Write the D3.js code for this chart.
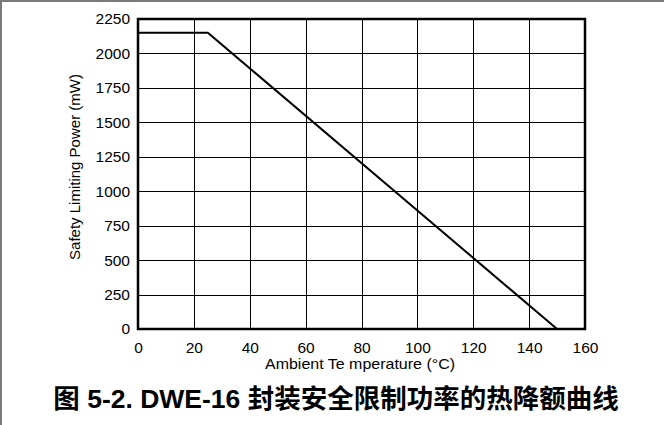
<!DOCTYPE html>
<html>
<head>
<meta charset="utf-8">
<script src="https://cdn.jsdelivr.net/npm/d3@7/dist/d3.min.js"></script>
<style>
  html, body { margin: 0; padding: 0; background: #fff; }
  svg { display: block; }
</style>
</head>
<body>
<script>
// Safety-limiting power derating curve
const temperature = [0, 25, 150];          // ambient temperature, °C
const powerLimit  = [2150, 2150, 0];       // safety limiting power, mW
const xTicks = [0, 20, 40, 60, 80, 100, 120, 140, 160];
const yTicks = [0, 250, 500, 750, 1000, 1250, 1500, 1750, 2000, 2250];
const xTitle = "Ambient Te mperature (\u00B0C)";
const yTitle = "Safety Limiting Power (mW)";
const caption = "图 5-2. DWE-16 封装安全限制功率的热降额曲线";

const W = 664, H = 425;
const plot = { left: 138, right: 585, top: 19, bottom: 329 };
const sans = "Liberation Sans, Arial, sans-serif";

const svg = d3.select("body").append("svg")
  .attr("width", W).attr("height", H);

// page frame (top and left edges)
svg.append("path")
  .attr("d", `M1,${H} L1,1 L${W},1`)
  .attr("fill", "none").attr("stroke", "#7a7a7a").attr("stroke-width", 2);

const x = d3.scaleLinear().domain([0, 160]).range([plot.left, plot.right]);
const y = d3.scaleLinear().domain([0, 2250]).range([plot.bottom, plot.top]);

// grid
const grid = svg.append("g").attr("stroke", "#000").attr("stroke-width", 1);
grid.selectAll("line.v").data(xTicks.slice(1, -1)).join("line")
  .attr("x1", d => Math.round(x(d)) + 0.5).attr("x2", d => Math.round(x(d)) + 0.5)
  .attr("y1", plot.top).attr("y2", plot.bottom);
grid.selectAll("line.h").data(yTicks.slice(1, -1)).join("line")
  .attr("y1", d => Math.round(y(d)) + 0.5).attr("y2", d => Math.round(y(d)) + 0.5)
  .attr("x1", plot.left).attr("x2", plot.right);

// tick labels via axes
const xAxis = d3.axisBottom(x).tickValues(xTicks).tickFormat(d3.format("d"))
  .tickSize(0).tickPadding(13);
const gx = svg.append("g").attr("transform", `translate(0,${plot.bottom})`).call(xAxis);
gx.select(".domain").remove();
gx.selectAll("text").attr("font-family", sans).attr("font-size", 15.5).attr("fill", "#000");

const yAxis = d3.axisLeft(y).tickValues(yTicks).tickFormat(d3.format("d"))
  .tickSize(0).tickPadding(8);
const gy = svg.append("g").attr("transform", `translate(${plot.left},0)`).call(yAxis);
gy.select(".domain").remove();
gy.selectAll("text").attr("font-family", sans).attr("font-size", 15.5).attr("fill", "#000");

// plot frame
svg.append("rect")
  .attr("x", plot.left).attr("y", plot.top)
  .attr("width", plot.right - plot.left).attr("height", plot.bottom - plot.top)
  .attr("fill", "none").attr("stroke", "#000").attr("stroke-width", 2.5);

// derating curve
const line = d3.line().x((d, i) => x(temperature[i])).y(d => y(d));
svg.append("path").datum(powerLimit)
  .attr("d", line)
  .attr("fill", "none").attr("stroke", "#000").attr("stroke-width", 2);

// axis titles
svg.append("text")
  .attr("x", 360).attr("y", 369)
  .attr("text-anchor", "middle")
  .attr("font-family", sans)
  .attr("font-size", 14.5).attr("fill", "#000")
  .attr("textLength", 190).attr("lengthAdjust", "spacingAndGlyphs")
  .text(xTitle);

svg.append("text")
  .attr("transform", `translate(80,167) rotate(-90)`)
  .attr("text-anchor", "middle")
  .attr("font-family", sans)
  .attr("font-size", 15).attr("fill", "#000")
  .text(yTitle);

// figure caption
svg.append("text")
  .attr("x", 336).attr("y", 408)
  .attr("text-anchor", "middle")
  .attr("font-family", "Liberation Sans, 'Noto Sans CJK SC', sans-serif")
  .attr("font-weight", "bold")
  .attr("font-size", 26.5).attr("fill", "#000")
  .text(caption);
</script>
</body>
</html>
